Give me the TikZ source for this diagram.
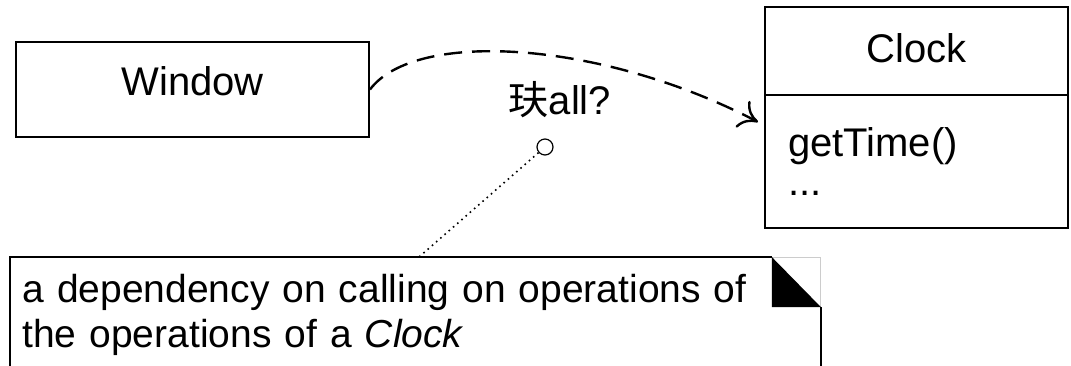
\documentclass[tikz,border=0pt]{standalone}
\usepackage{fontspec}
\setmainfont{Liberation Sans}
\newfontfamily\cjkfont{Noto Sans CJK SC}
\usetikzlibrary{arrows.meta,positioning,calc}

\begin{document}
\begin{tikzpicture}[
  x=0.5pt, y=-0.5pt,
  font=\fontsize{20}{22.5}\selectfont,
  classbox/.style={draw, line width=1pt, minimum width=176.5pt, minimum height=47.5pt, inner sep=0pt},
  compart/.style={draw, line width=1pt, minimum width=151.5pt, inner sep=0pt, outer sep=0pt},
  notetext/.style={align=left, text width=393pt, inner xsep=6pt, inner ysep=8.5pt, font=\fontsize{19.5}{22.5}\selectfont},
  dep/.style={-{To[length=9pt,width=15pt]}, line width=1.2pt, dash pattern=on 9pt off 5pt},
  anchorline/.style={line width=0.8pt, dash pattern=on 0.8pt off 2pt}
]
\path[use as bounding box, clip] (0,0) rectangle (1071,365);

\node[classbox, text depth=8pt] (win) at (192.5,89.5) {Window};

\node[compart, minimum height=44pt, text depth=3pt] (clkname) at (916.5,51) {Clock};
\node[compart, below=0pt of clkname, minimum height=66.5pt, align=left,
      text width=128.5pt, inner xsep=11.5pt] (clkbody) {getTime()\\[-3pt]...};

\coordinate (tip) at ($(clkbody.north west)+(-7,27)$);
\draw[dep] (win.east) .. controls +(45,-60) and +(-158,-82) .. (tip);

\node (lbl) at (560,100) {{\cjkfont 玞}all?};
\node[circle, draw, line width=0.6pt, minimum size=8pt, inner sep=0pt] (knob) at (545,147) {};

% note with folded corner
\node[notetext, anchor=north west] (note) at (10,257)
  {a dependency on calling on operations of\\the operations of a \textit{Clock}};
\coordinate (pin) at (419,257);
\draw[anchorline] (knob) -- (pin);

\draw[line width=1pt] (note.south west) -- (note.north west) -- ($(note.north east)+(-49,0)$);
\draw[gray!40, line width=0.5pt] ($(note.north east)+(-49,0)$) -- (note.north east) -- ($(note.north east)+(0,50)$);
\fill ($(note.north east)+(-49,0)$) -- ($(note.north east)+(-49,50)$) -- ($(note.north east)+(0,50)$) -- cycle;
\draw[line width=1pt] ($(note.north east)+(0,50)$) -- (note.south east);
\end{tikzpicture}
\end{document}
